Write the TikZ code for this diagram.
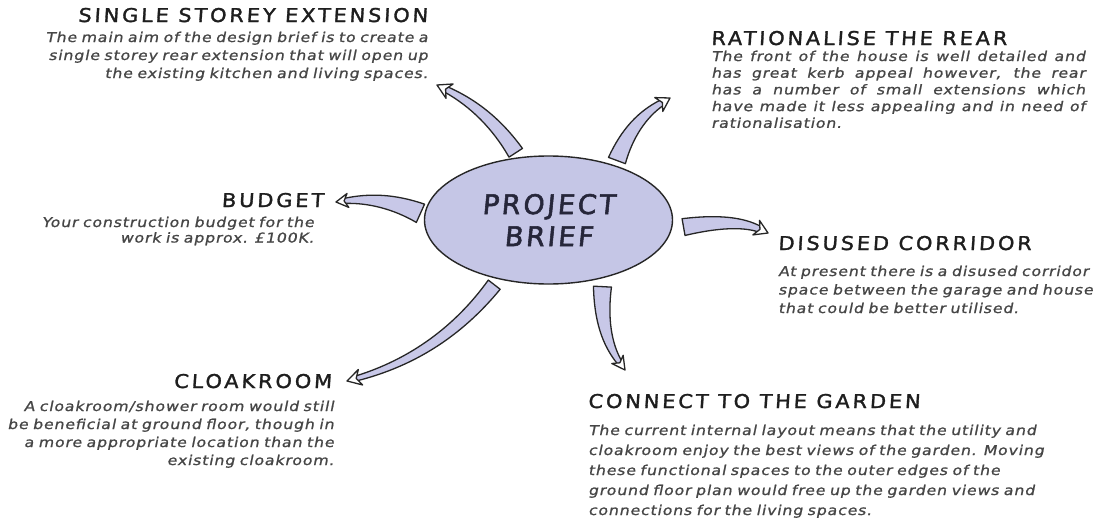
\documentclass[tikz,border=0pt]{standalone}
\usepackage{fontspec}
\usetikzlibrary{shapes.geometric,calc}

% hand-lettered look: wide, slanted sans
\newfontfamily\titlefont{DejaVu Sans}[FakeSlant=0.06,FakeStretch=1.1,LetterSpace=15,FakeBold=1.6]
\newfontfamily\bodyfont{DejaVu Sans}[FakeSlant=0.2,FakeStretch=1.17,LetterSpace=6,FakeBold=1]
\newfontfamily\hubfont{DejaVu Sans}[FakeSlant=0.1,LetterSpace=10,FakeBold=2]

\definecolor{hubfill}{RGB}{197,198,230}
\definecolor{shaftfill}{RGB}{200,200,232}
\definecolor{ink}{RGB}{30,30,30}
\definecolor{bodyink}{RGB}{70,70,70}
\definecolor{hubink}{RGB}{38,38,58}

\tikzset{
  heading/.style={font=\titlefont\fontsize{19}{22}\selectfont, text=ink, inner sep=0pt},
  blurb/.style={font=\bodyfont\fontsize{13.5}{#1}\selectfont, text=bodyink, inner sep=0pt, text width=440pt},
  hub/.style={ellipse, draw=black!85, line width=1.4pt, fill=hubfill, minimum width=248pt,
    minimum height=128pt, inner sep=0pt, align=center, text=hubink,
    font=\hubfont\fontsize{27}{32}\selectfont},
  arrowbody/.style={fill=shaftfill, draw=black!85, line width=1.3pt, line join=round},
  arrowhead/.style={fill=white, draw=black!85, line width=1.3pt, line join=round},
}

% a line of text spread over the full column width
\newcommand\fullline[2]{\leavevmode\hbox to #1{\spaceskip=0.3em plus 1fil\relax #2}}

% tapered curved arrow:
% #1 start, #2 bend control, #3 tip, #4 half width at start, #5 half width at head,
% #6 head length, #7 head half width (all lengths in pt)
\newcommand\briefarrow[7]{%
  \coordinate (ba-S) at (#1);
  \coordinate (ba-C) at (#2);
  \coordinate (ba-E) at (#3);
  \coordinate (ba-B) at ($(ba-E)!#6pt!(ba-C)$);
  \coordinate (ba-N) at ($(ba-E)!0.68!(ba-B)$);
  % cubic controls of the quadratic centre line S -> C -> N
  \coordinate (ba-P) at ($(ba-S)!2/3!(ba-C)$);
  \coordinate (ba-Q) at ($(ba-N)!2/3!(ba-C)$);
  \pgfmathsetmacro\bawa{(2*#4+#5)/3}%
  \pgfmathsetmacro\bawb{(#4+2*#5)/3}%
  \coordinate (ba-Sl) at ($(ba-S)!#4pt!90:(ba-C)$);
  \coordinate (ba-Sr) at ($(ba-S)!#4pt!-90:(ba-C)$);
  \coordinate (ba-Nl) at ($(ba-N)!#5pt!-90:(ba-C)$);
  \coordinate (ba-Nr) at ($(ba-N)!#5pt!90:(ba-C)$);
  \coordinate (ba-Pl) at ($(ba-P)!\bawa pt!90:(ba-Q)$);
  \coordinate (ba-Pr) at ($(ba-P)!\bawa pt!-90:(ba-Q)$);
  \coordinate (ba-Ql) at ($(ba-Q)!\bawb pt!-90:(ba-P)$);
  \coordinate (ba-Qr) at ($(ba-Q)!\bawb pt!90:(ba-P)$);
  \coordinate (ba-Hl) at ($(ba-B)!#7pt!-90:(ba-C)$);
  \coordinate (ba-Hr) at ($(ba-B)!#7pt!90:(ba-C)$);
  \draw[arrowbody] (ba-Sl) .. controls (ba-Pl) and (ba-Ql) .. (ba-Nl) -- (ba-Nr)
    .. controls (ba-Qr) and (ba-Pr) .. (ba-Sr) -- cycle;
  \draw[arrowhead] (ba-E) -- (ba-Hl) -- (ba-N) -- (ba-Hr) -- cycle;
}

\begin{document}
\begin{tikzpicture}[x=1pt,y=-1pt]
\fill[white] (0,0) rectangle (1095,522);
\useasboundingbox (0,0) rectangle (1095,522);

% central idea
\node[hub] (brief) at (548.5,220) {PROJECT\\BRIEF};

% single storey extension
\node[heading, anchor=base east] (singleT) at (428,22) {SINGLE STOREY EXTENSION};
\node[blurb=18, align=right, anchor=base east] (singleB) at (428,42)
  {The main aim of the design brief is to create a\\
   single storey rear extension that will open up\\
   the existing kitchen and living spaces.};

% rationalise the rear
\node[heading, anchor=base west] (rearT) at (711,45) {RATIONALISE THE REAR};
\node[blurb=16.7, text width=374pt, align=left, anchor=base west] (rearB) at (711,61)
  {\fullline{374pt}{The front of the house is well detailed and}\\
   \fullline{374pt}{has great kerb appeal however, the rear}\\
   \fullline{374pt}{has a number of small extensions which}\\
   \fullline{374pt}{have made it less appealing and in need of}\\
   rationalisation.};

% budget
\node[heading, anchor=base east] (budgetT) at (324,207) {BUDGET};
\node[blurb=15.5, align=right, anchor=base east] (budgetB) at (314,227)
  {Your construction budget for the\\
   work is approx. £100K.};

% disused corridor
\node[heading, anchor=base west] (corridorT) at (778,250) {DISUSED CORRIDOR};
\node[blurb=18.5, align=left, anchor=base west] (corridorB) at (778,276)
  {At present there is a disused corridor\\
   space between the garage and house\\
   that could be better utilised.};

% cloakroom
\node[heading, anchor=base east] (cloakT) at (332,388) {CLOAKROOM};
\node[blurb=18, align=right, anchor=base east] (cloakB) at (334,411)
  {A cloakroom/shower room would still\\
   be beneficial at ground floor, though in\\
   a more appropriate location than the\\
   existing cloakroom.};

% connect to the garden
\node[heading, anchor=base west] (gardenT) at (588,408) {CONNECT TO THE GARDEN};
\node[blurb=20, align=left, text width=480pt, anchor=base west] (gardenB) at (588,435)
  {The current internal layout means that the utility and\\
   cloakroom enjoy the best views of the garden. Moving\\
   these functional spaces to the outer edges of the\\
   ground floor plan would free up the garden views and\\
   connections for the living spaces.};

% arrow tips
\coordinate (singleTip) at (437,85);
\coordinate (rearTip) at (670,98);
\coordinate (budgetTip) at (336,202);
\coordinate (corridorTip) at (768,233);
\coordinate (cloakTip) at (347,381);
\coordinate (gardenTip) at (625,370);

% arrows radiating from the brief
\briefarrow{$(brief.116)!-5pt!(brief.center)$}{488,110}{singleTip}{8}{3}{14}{8}
\briefarrow{$(brief.41)!-6pt!(brief.center)$}{632,120}{rearTip}{9}{3}{13}{8}
\briefarrow{$(brief.177)!-4pt!(brief.center)$}{382,196}{budgetTip}{10}{2.5}{12}{7}
\briefarrow{$(brief.-3)!-11pt!(brief.center)$}{735,218}{corridorTip}{8.5}{3}{13}{8}
\briefarrow{$(brief.230)!-7pt!(brief.center)$}{440,355}{cloakTip}{7.5}{2.5}{14}{8}
\briefarrow{$(brief.-51)!-9pt!(brief.center)$}{600,335}{gardenTip}{9}{2.5}{13}{7}
\end{tikzpicture}
\end{document}
